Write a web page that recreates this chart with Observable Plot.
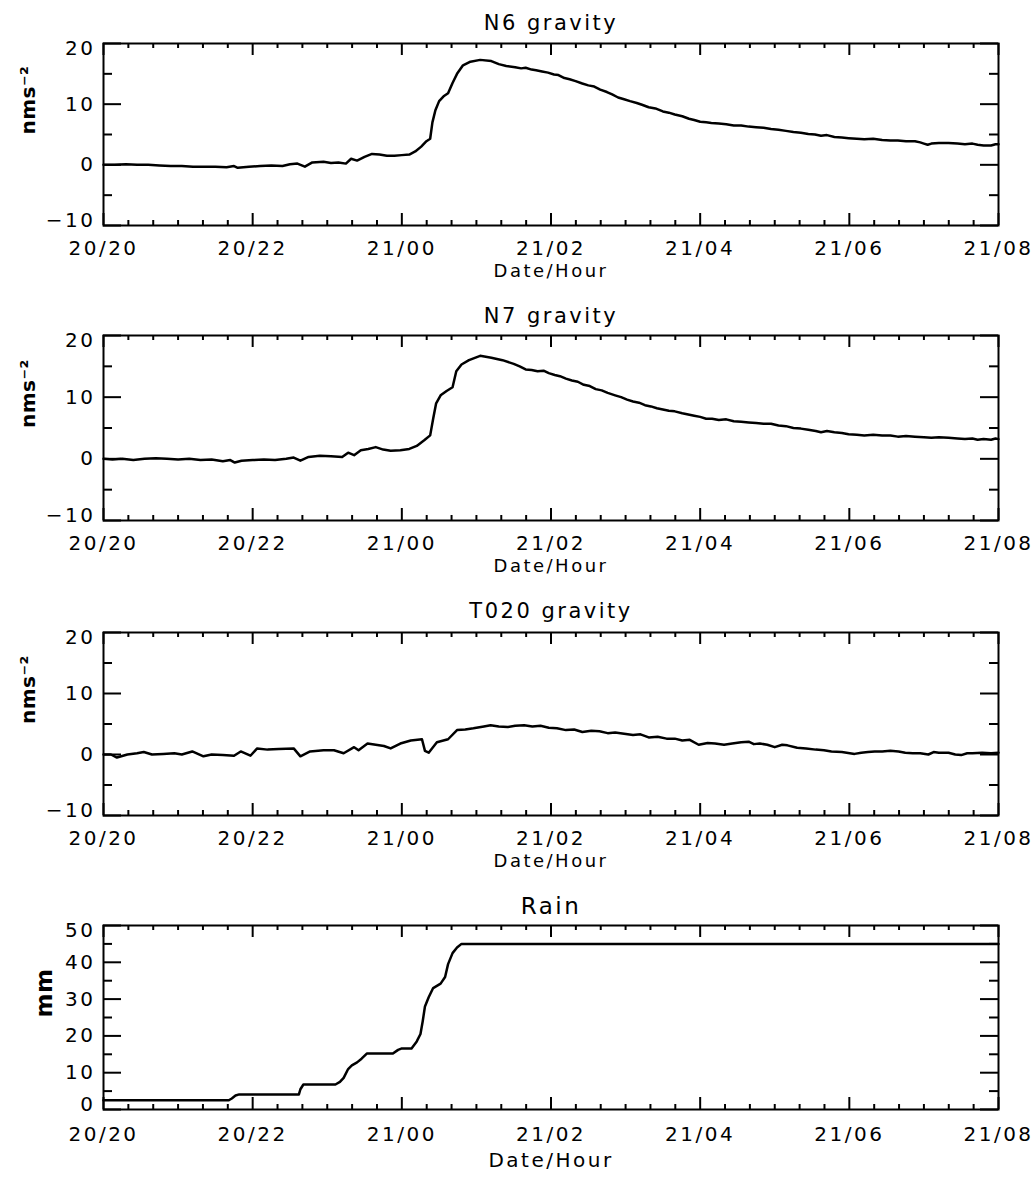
<!DOCTYPE html>
<html>
<head>
<meta charset="utf-8">
<script src="https://cdn.jsdelivr.net/npm/d3@7"></script>
<script src="https://cdn.jsdelivr.net/npm/@observablehq/plot@0.6"></script>
<style>
  html, body { margin: 0; padding: 0; background: white; overflow: hidden; }
  #chart svg { display: block; }
  #chart text { letter-spacing: 2.5px; }
</style>
</head>
<body>
<div id="chart"></div>
<script>
// ---------- DATA (hours since 20/20, values) ----------
const xMajorHours = [0, 2, 4, 6, 8, 10, 12];
const xTickLabels = ["20/20", "20/22", "21/00", "21/02", "21/04", "21/06", "21/08"];

const gravMajor = [-10, 0, 10, 20];
const gravMinor = [-5, 5, 15];
const rainMajor = [0, 10, 20, 30, 40, 50];
const rainMinor = [5, 15, 25, 35, 45];

const n6Hours = [0.00,0.15,0.30,0.45,0.60,0.75,0.90,1.05,1.20,1.35,1.50,1.65,1.75,1.80,1.95,2.10,2.25,2.40,2.50,2.60,2.70,2.80,2.95,3.05,3.15,3.25,3.32,3.40,3.50,3.60,3.70,3.80,3.90,4.00,4.10,4.18,4.26,4.33,4.38,4.41,4.45,4.50,4.56,4.62,4.68,4.74,4.82,4.92,5.05,5.20,5.30,5.40,
  5.52,5.60,5.66,5.74,5.80,5.88,5.96,6.04,6.10,6.18,6.25,6.33,6.42,6.50,6.58,6.66,6.75,6.82,6.90,6.98,7.06,7.15,7.22,7.31,7.40,7.50,7.58,7.66,7.76,7.85,7.92,8.00,8.08,8.15,8.25,8.35,8.45,8.55,8.65,8.75,8.85,8.95,9.05,9.15,9.25,9.35,9.45,9.54,9.62,9.70,9.80,9.90,9.99,10.10,10.20,10.32,10.44,10.55,10.65,10.76,10.88,10.95,11.00,11.05,11.10,11.20,11.33,11.45,11.55,11.65,11.72,11.80,11.90,11.96,12.00];
const n6Values = [0.0,0.0,0.1,0.0,0.0,-0.1,-0.2,-0.2,-0.3,-0.3,-0.3,-0.4,-0.2,-0.5,-0.3,-0.2,-0.1,-0.2,0.1,0.2,-0.3,0.4,0.5,0.3,0.4,0.2,1.0,0.7,1.3,1.8,1.7,1.5,1.5,1.6,1.7,2.2,3.0,3.9,4.3,7.0,9.0,10.5,11.3,11.8,13.5,15.0,16.4,17.0,17.3,17.1,16.6,16.3,
  16.1,15.9,16.0,15.7,15.6,15.4,15.2,14.9,14.8,14.3,14.1,13.8,13.4,13.1,12.9,12.4,12.0,11.6,11.1,10.8,10.5,10.2,9.9,9.5,9.3,8.8,8.6,8.3,8.0,7.6,7.4,7.1,7.0,6.9,6.8,6.7,6.5,6.5,6.3,6.2,6.1,5.9,5.8,5.6,5.4,5.3,5.1,5.0,4.8,4.9,4.6,4.5,4.4,4.3,4.2,4.3,4.1,4.0,4.0,3.9,3.9,3.7,3.5,3.3,3.5,3.6,3.6,3.5,3.4,3.5,3.3,3.2,3.2,3.4,3.4];

const n7Hours = [0.00,0.12,0.25,0.40,0.55,0.70,0.85,1.00,1.15,1.30,1.45,1.60,1.70,1.76,1.85,2.00,2.15,2.30,2.45,2.55,2.64,2.75,2.90,3.05,3.20,3.28,3.36,3.45,3.55,3.65,3.75,3.85,3.98,4.10,4.20,4.30,4.38,4.42,4.46,4.52,4.60,4.68,4.73,4.80,4.90,5.05,5.20,5.35,
  5.50,5.58,5.66,5.74,5.82,5.90,5.97,6.05,6.12,6.20,6.28,6.36,6.44,6.52,6.60,6.68,6.76,6.86,6.94,7.02,7.10,7.18,7.26,7.34,7.42,7.50,7.58,7.66,7.76,7.84,7.92,8.00,8.08,8.16,8.25,8.35,8.45,8.55,8.65,8.75,8.85,8.95,9.05,9.15,9.25,9.35,9.45,9.55,9.62,9.70,9.80,9.90,9.99,10.10,10.20,10.32,10.44,10.55,10.65,10.76,10.88,11.00,11.10,11.20,11.33,11.45,11.55,11.65,11.72,11.80,11.90,11.96,12.00];
const n7Values = [0.0,-0.1,0.0,-0.2,0.0,0.1,0.0,-0.1,0.0,-0.2,-0.1,-0.4,-0.2,-0.6,-0.3,-0.2,-0.1,-0.2,0.0,0.2,-0.3,0.3,0.5,0.4,0.3,1.0,0.6,1.4,1.6,1.9,1.5,1.3,1.4,1.6,2.1,3.0,3.8,6.5,9.0,10.3,11.0,11.6,14.2,15.3,16.0,16.7,16.4,16.0,
  15.4,15.0,14.5,14.4,14.2,14.3,13.9,13.6,13.4,13.0,12.7,12.5,12.0,11.8,11.3,11.1,10.7,10.3,10.0,9.6,9.3,9.1,8.7,8.5,8.2,8.0,7.8,7.7,7.4,7.2,7.0,6.8,6.5,6.5,6.3,6.4,6.1,6.0,5.9,5.8,5.7,5.7,5.4,5.3,5.0,4.9,4.7,4.5,4.3,4.5,4.3,4.2,4.0,3.9,3.8,3.9,3.8,3.8,3.6,3.7,3.6,3.5,3.4,3.5,3.4,3.3,3.2,3.3,3.1,3.2,3.1,3.3,3.2];

const t020Hours = [0.00,0.10,0.18,0.32,0.45,0.54,0.65,0.80,0.95,1.05,1.19,1.34,1.45,1.60,1.75,1.84,1.97,2.06,2.20,2.35,2.55,2.64,2.77,2.95,3.09,3.22,3.36,3.42,3.54,3.65,3.76,3.85,3.98,4.12,4.27,4.31,4.36,4.47,4.62,4.74,4.85,4.96,5.10,5.19,5.30,5.42,5.52,5.64,5.75,5.86,5.97,6.08,6.20,6.31,6.42,6.54,6.65,6.76,6.86,6.98,7.10,7.20,7.31,7.43,7.55,7.66,7.76,7.86,7.98,8.10,8.20,8.32,8.43,8.55,8.65,8.72,8.80,8.90,9.00,9.10,9.17,9.30,9.42,9.55,9.66,9.76,9.90,10.07,10.16,10.25,10.34,10.44,10.55,10.66,10.75,10.85,10.95,11.06,11.13,11.20,11.33,11.42,11.50,11.58,11.65,11.78,11.90,12.00];
const t020Values = [0.0,0.0,-0.5,0.0,0.2,0.4,0.0,0.1,0.2,0.0,0.5,-0.3,0.0,-0.1,-0.2,0.5,-0.2,1.0,0.8,0.9,1.0,-0.3,0.5,0.7,0.7,0.2,1.2,0.7,1.8,1.6,1.4,1.0,1.8,2.3,2.5,0.6,0.3,2.0,2.5,4.0,4.1,4.3,4.6,4.8,4.6,4.5,4.7,4.8,4.6,4.7,4.4,4.3,4.0,4.1,3.7,3.9,3.8,3.5,3.6,3.4,3.2,3.3,2.8,2.9,2.6,2.6,2.3,2.4,1.6,1.9,1.8,1.6,1.8,2.0,2.1,1.7,1.8,1.6,1.2,1.6,1.5,1.1,1.0,0.8,0.7,0.5,0.4,0.1,0.3,0.4,0.5,0.5,0.6,0.5,0.3,0.2,0.2,0.0,0.4,0.3,0.3,0.0,-0.1,0.2,0.2,0.3,0.2,0.3];

const rainHours = [0.00,1.68,1.72,1.77,1.82,2.62,2.64,2.68,3.11,3.17,3.22,3.28,3.33,3.40,3.46,3.53,3.88,3.95,4.00,4.13,4.20,4.25,4.28,4.31,4.36,4.42,4.52,4.58,4.62,4.68,4.74,4.80,12.00];
const rainValues = [2.5,2.5,3.0,3.8,4.1,4.1,5.5,6.8,6.8,7.5,8.6,11.0,12.0,12.8,13.8,15.2,15.2,16.2,16.6,16.6,18.5,20.5,24.0,28.0,30.5,33.0,34.2,36.0,39.5,42.5,44.0,45.0,45.0];

// ---------- helpers ----------
const base = Date.UTC(2000, 0, 20, 20);
const toDate = h => new Date(base + h * 3600000);
const xMajor = xMajorHours.map(toDate);
const xMinor = d3.utcMinute.every(20).range(toDate(0), toDate(12.01))
  .filter(d => !(d.getUTCMinutes() === 0 && d.getUTCHours() % 2 === 0));
const fmtX = d => xTickLabels[xMajorHours.indexOf((d - base) / 3600000)];

const FONT = "DejaVu Sans";
const W = 1035, ML = 103, MR = 37, PW = W - ML - MR;

function panel({title, hours, values, yDomain, yMajor, yMinor, yLabel, yLabelDx, marginTop, plotH, marginBottom,
                titleDy, titleSize, xLabelPad, xTitleDy, xTitleSize, yLabelSize}) {
  const data = hours.map((h, i) => ({date: toDate(h), v: values[i]}));
  const inner = yMajor.slice(1, -1), yBottom = yMajor.slice(0, 1), yTop = yMajor.slice(-1);
  const tk = {stroke: "black", strokeWidth: 2};
  const svg = Plot.plot({
    width: W,
    height: marginTop + plotH + marginBottom,
    marginLeft: ML,
    marginRight: MR,
    marginTop,
    marginBottom,
    x: {type: "utc", domain: [toDate(0), toDate(12)]},
    y: {domain: yDomain},
    style: {fontFamily: FONT, fontSize: "20px", color: "black", background: "white", overflow: "visible"},
    marks: [
      Plot.frame({stroke: "black", strokeWidth: 2}),
      // inward ticks on all four sides
      Plot.ruleX(xMajor, {...tk, insetBottom: plotH - 12}),
      Plot.ruleX(xMajor, {...tk, insetTop: plotH - 12}),
      Plot.ruleX(xMinor, {...tk, insetBottom: plotH - 5}),
      Plot.ruleX(xMinor, {...tk, insetTop: plotH - 5}),
      Plot.ruleY(yMajor, {...tk, insetRight: PW - 18}),
      Plot.ruleY(yMajor, {...tk, insetLeft: PW - 18}),
      Plot.ruleY(yMinor, {...tk, insetRight: PW - 9}),
      Plot.ruleY(yMinor, {...tk, insetLeft: PW - 9}),
      // tick labels
      Plot.axisX(xMajor, {anchor: "bottom", tickSize: 0, tickPadding: xLabelPad, tickFormat: fmtX, label: null, fontSize: 20}),
      Plot.axisY(inner, {anchor: "left", tickSize: 0, tickPadding: 8, label: null, fontSize: 20}),
      Plot.axisY(yTop, {anchor: "left", tickSize: 0, tickPadding: 8, label: null, fontSize: 20, dy: 5}),
      Plot.axisY(yBottom, {anchor: "left", tickSize: 0, tickPadding: 8, label: null, fontSize: 20, dy: -5}),
      Plot.line(data, {x: "date", y: "v", stroke: "black", strokeWidth: 2.5}),
      // titles
      Plot.text([title], {frameAnchor: "top", dy: titleDy, fontSize: titleSize, lineAnchor: "middle"}),
      Plot.text(["Date/Hour"], {frameAnchor: "bottom", dy: xTitleDy, fontSize: xTitleSize, lineAnchor: "middle"}),
      Plot.text([yLabel], {frameAnchor: "left", dx: yLabelDx, rotate: -90, fontSize: yLabelSize, fontWeight: "bold", lineAnchor: "middle"})
    ]
  });
  d3.select(svg).selectAll("text").filter(function () { return this.textContent === yLabel; })
    .style("letter-spacing", "0.5px");
  return svg;
}

const root = document.getElementById("chart");
const common = {marginBottom: 67, xLabelPad: 15, xTitleDy: 46, xTitleSize: 18,
                titleSize: 21, yLabelSize: 20, yLabelDx: -75};

const panels = [
  {...common, title: "N6 gravity", hours: n6Hours, values: n6Values, yDomain: [-10, 20],
   yMajor: gravMajor, yMinor: gravMinor, yLabel: "nms⁻²", marginTop: 43, plotH: 182, titleDy: -20},
  {...common, title: "N7 gravity", hours: n7Hours, values: n7Values, yDomain: [-10, 20],
   yMajor: gravMajor, yMinor: gravMinor, yLabel: "nms⁻²", marginTop: 43, plotH: 185, titleDy: -19},
  {...common, title: "T020 gravity", hours: t020Hours, values: t020Values, yDomain: [-10, 20],
   yMajor: gravMajor, yMinor: gravMinor, yLabel: "nms⁻²", marginTop: 45, plotH: 183, titleDy: -21},
  {...common, title: "Rain", hours: rainHours, values: rainValues, yDomain: [0, 50],
   yMajor: rainMajor, yMinor: rainMinor, yLabel: "mm", yLabelDx: -59, yLabelSize: 23, marginTop: 43, plotH: 184, marginBottom: 71,
   titleDy: -19, titleSize: 23, xLabelPad: 17, xTitleDy: 51, xTitleSize: 20}
];
for (const p of panels) root.appendChild(panel(p));
</script>
</body>
</html>
